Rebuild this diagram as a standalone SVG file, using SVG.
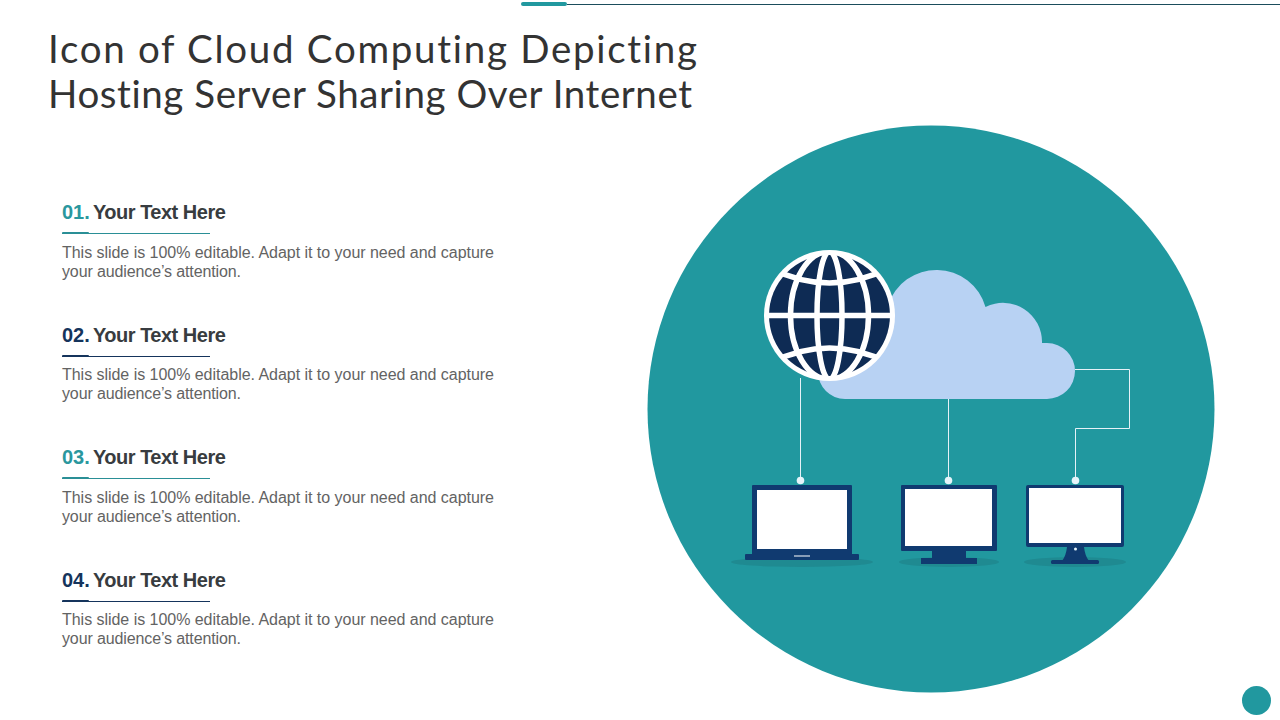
<svg xmlns="http://www.w3.org/2000/svg" width="1280" height="720" viewBox="0 0 1280 720">
<style>
.title{font-family:"Lato","Open Sans",sans-serif;font-size:38.5px;font-weight:400;fill:#333;font-variant-ligatures:none}
.h{font-family:"Liberation Sans",Arial,sans-serif;font-size:20px;font-weight:700;fill:#383c40}
.y{letter-spacing:-.5px}
.b{font-family:"Liberation Sans",Arial,sans-serif;font-size:16px;fill:#636363}
.teal{fill:#2a979e}.navy{fill:#15345c}
.dev{fill:#103a70}.scr{fill:#fff}.sh{fill:#1f8a91}
.wire{fill:none;stroke:#e6f1f7;stroke-width:1}
.dot{fill:#e6f4fa}
.g{fill:none;stroke:#fff;stroke-width:5.5}
</style>
<defs><clipPath id="gc"><circle cx="829.5" cy="315.5" r="62"/></clipPath></defs>
<rect width="1280" height="720" fill="#fff"/>
<g id="topbar"><rect x="567" y="4" width="713" height="1" fill="#1b4d5c"/><rect x="521" y="2" width="46" height="4" rx="2" fill="#21989f"/></g>
<g id="title"><text class="title" x="48" y="63" textLength="649">Icon of Cloud Computing Depicting</text><text class="title" x="48" y="108" textLength="644">Hosting Server Sharing Over Internet</text></g>
<g id="item1"><text class="h" x="62" y="219"><tspan class="teal">01.</tspan><tspan class="y" x="93">Your Text Here</tspan></text><rect x="62" y="233" width="148" height="1" fill="#2a8f96"/><rect x="62" y="232" width="27" height="2" rx="1" fill="#2a8f96"/><text class="b" x="62" y="258" textLength="432">This slide is 100% editable. Adapt it to your need and capture</text><text class="b" x="62" y="277" textLength="179">your audience’s attention.</text></g>
<g id="item2"><text class="h" x="62" y="342"><tspan class="navy">02.</tspan><tspan class="y" x="93">Your Text Here</tspan></text><rect x="62" y="356" width="148" height="1" fill="#15345c"/><rect x="62" y="355" width="27" height="2" rx="1" fill="#15345c"/><text class="b" x="62" y="380" textLength="432">This slide is 100% editable. Adapt it to your need and capture</text><text class="b" x="62" y="399" textLength="179">your audience’s attention.</text></g>
<g id="item3"><text class="h" x="62" y="464"><tspan class="teal">03.</tspan><tspan class="y" x="93">Your Text Here</tspan></text><rect x="62" y="478" width="148" height="1" fill="#2a8f96"/><rect x="62" y="477" width="27" height="2" rx="1" fill="#2a8f96"/><text class="b" x="62" y="503" textLength="432">This slide is 100% editable. Adapt it to your need and capture</text><text class="b" x="62" y="522" textLength="179">your audience’s attention.</text></g>
<g id="item4"><text class="h" x="62" y="587"><tspan class="navy">04.</tspan><tspan class="y" x="93">Your Text Here</tspan></text><rect x="62" y="601" width="148" height="1" fill="#15345c"/><rect x="62" y="600" width="27" height="2" rx="1" fill="#15345c"/><text class="b" x="62" y="625" textLength="432">This slide is 100% editable. Adapt it to your need and capture</text><text class="b" x="62" y="644" textLength="179">your audience’s attention.</text></g>
<circle id="backdrop" cx="931" cy="409" r="283.5" fill="#21989f"/>
<circle id="corner" cx="1256.5" cy="700.5" r="14.500" fill="#21989f"/>
<g id="cloud"><path d="M845 399H1047A28 28 0 0 0 1047 343H1042A39 39 0 0 0 985.500 307A51 51 0 0 0 888 305L830 340L818 372A27 27 0 0 0 845 399Z" fill="#b8d2f3"/></g>
<g id="connectors">
<path class="wire" d="M800.500 378V480"/><path class="wire" d="M948.500 399V480"/><path class="wire" d="M1075 369.500H1129.500V428.500H1075.500V480"/>
<circle class="dot" cx="800.500" cy="480.500" r="3.800"/><circle class="dot" cx="948.500" cy="480.500" r="3.800"/><circle class="dot" cx="1075.500" cy="480.500" r="3.800"/>
</g>
<g id="globe">
<circle cx="829.500" cy="315.500" r="65.500" fill="#fff"/><circle cx="829.500" cy="315.500" r="60.500" fill="#0e2b54"/>
<g clip-path="url(#gc)">
<ellipse class="g" cx="829.500" cy="315.500" rx="12.500" ry="64"/><ellipse class="g" cx="829.500" cy="315.500" rx="39" ry="64"/>
<path class="g" d="M765 315.500H894M770 268Q829.500 298 889 268M770 363Q829.500 333 889 363"/>
</g></g>
<g id="laptop"><ellipse class="sh" cx="802" cy="562" rx="71" ry="5"/><rect class="dev" x="752" y="485" width="100" height="71" rx="1"/><rect class="scr" x="757" y="490" width="90" height="59"/><rect class="dev" x="745" y="554" width="114" height="6" rx="1"/><rect x="794" y="555.500" width="16" height="1" fill="#fff"/></g>
<g id="monitor1"><ellipse class="sh" cx="949" cy="562" rx="50" ry="5"/><rect class="dev" x="901" y="485" width="96" height="66" rx="1"/><rect class="scr" x="905" y="489" width="87" height="57"/><rect class="dev" x="932" y="551" width="34" height="8"/><rect class="dev" x="921" y="558" width="56" height="6"/></g>
<g id="monitor2"><ellipse class="sh" cx="1075" cy="562" rx="51" ry="5"/><rect class="dev" x="1026" y="485" width="98" height="62" rx="2"/><rect class="scr" x="1029" y="488" width="92" height="55"/><path class="dev" d="M1067 547H1084Q1085 556 1089 561H1062Q1066 556 1067 547Z"/><rect class="dev" x="1051" y="560" width="48" height="4" rx="1.500"/><circle class="dot" cx="1075.500" cy="549" r="1.500"/></g>
</svg>
